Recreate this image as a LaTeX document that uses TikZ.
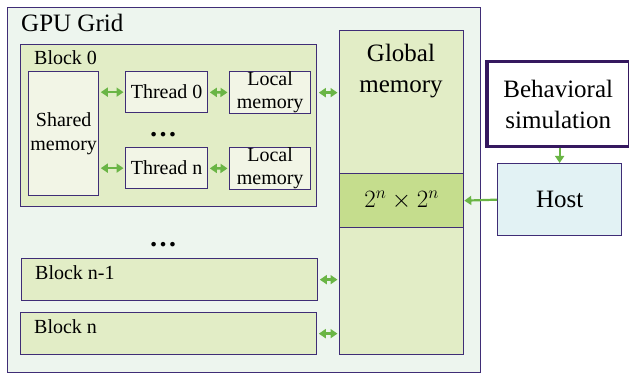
\documentclass[tikz,border=0pt]{standalone}
\usepackage{fontspec}
\setmainfont{Liberation Serif}
\usetikzlibrary{arrows.meta}

\definecolor{gridfill}{HTML}{EDF5EE}
\definecolor{blockfill}{HTML}{E2EDC6}
\definecolor{cellfill}{HTML}{F2F5E6}
\definecolor{bandfill}{HTML}{C5DD8D}
\definecolor{hostfill}{HTML}{E2F2F4}
\definecolor{edge}{HTML}{3F2D76}
\definecolor{simedge}{HTML}{35185F}
\definecolor{linkgreen}{HTML}{6AB545}

\tikzset{
  box/.style={draw=edge, line width=1.3pt, inner sep=0pt, anchor=north west},
  link/.style={draw=linkgreen, line width=2.4pt, {Triangle[length=7pt,width=9pt]}-{Triangle[length=7pt,width=9pt]}, shorten >=1.5pt, shorten <=1.5pt},
  feed/.style={draw=linkgreen, line width=2.2pt, -{Triangle[length=7pt,width=9pt]}},
  big/.style={font=\fontsize{25}{31}\selectfont},
  small/.style={font=\fontsize{20}{24}\selectfont},
}

\begin{document}
\begin{tikzpicture}[x=1pt,y=1pt,yscale=-1]
        \useasboundingbox (0,0) rectangle (629,374);
        %Shape: Grid
        \node [box, fill=gridfill, minimum width=473, minimum height=365] (grid) at (7,7) {};
        % Text Node
        \node [big, anchor=base west, inner sep=0pt] (gridlabel) at (21,32) {GPU Grid};
        
        %Shape: Block 0 and its threads
        \node [box, fill=blockfill, minimum width=296, minimum height=162] (block0) at (20,44) {};
        \node [small, anchor=base west, inner sep=0pt] (block0label) at (34,65) {Block 0};
        \node [box, fill=cellfill, small, align=center, minimum width=70, minimum height=124] (shared) at (28,71) {Shared\\memory};
        \node [box, fill=cellfill, small, minimum width=82, minimum height=41] (thread0) at (125,71) {Thread 0};
        \node [box, fill=cellfill, font=\fontsize{20}{23}\selectfont, align=center, minimum width=81, minimum height=42] (local0) at (229,71) {Local\\memory};
        \node [box, fill=cellfill, small, minimum width=82, minimum height=41] (threadn) at (125,147) {Thread n};
        \node [box, fill=cellfill, font=\fontsize{20}{23}\selectfont, align=center, minimum width=81, minimum height=42] (localn) at (229,147) {Local\\memory};
        \node [font=\fontsize{28}{30}\selectfont\bfseries, anchor=base, inner sep=0pt] (threaddots) at (163,137) {…};
        
        %Shape: Other blocks
        \node [font=\fontsize{28}{30}\selectfont\bfseries, anchor=base, inner sep=0pt] (blockdots) at (163,247) {…};
        \node [box, fill=blockfill, minimum width=296, minimum height=42] (blockn1) at (21,258) {};
        \node [small, anchor=base west, inner sep=0pt] (blockn1label) at (35,279) {Block n-1};
        \node [box, fill=blockfill, minimum width=296, minimum height=42] (blockn) at (20,312) {};
        \node [small, anchor=base west, inner sep=0pt] (blocknlabel) at (34,333) {Block n};
        
        %Shape: Global memory
        \node [box, fill=blockfill, minimum width=124, minimum height=324] (global) at (339,30) {};
        \node [big, align=center, inner sep=0pt] (globallabel) at (401,71) {Global\\memory};
        \node [box, fill=bandfill, font=\fontsize{27}{31}\selectfont, minimum width=124, minimum height=54] (band) at (339,173) {$2^n \times 2^n$};
        
        %Shape: Host side
        \node [box, draw=simedge, line width=3.5pt, fill=white, big, align=center, minimum width=143, minimum height=85] (sim) at (485,60) {Behavioral\\simulation};
        \node [box, fill=hostfill, big, minimum width=124, minimum height=72] (host) at (497,163) {Host};
        
        %Straight Lines
        \draw [link] (shared.east |- thread0.west) -- (thread0.west);
        \draw [link] (thread0) -- (local0);
        \draw [link] (shared.east |- threadn.west) -- (threadn.west);
        \draw [link] (threadn) -- (localn);
        \draw [link] (block0.east |- local0.east) -- (global.west |- local0.east);
        \draw [link] (blockn1.east) -- (global.west |- blockn1.east);
        \draw [link] (blockn.east) -- (global.west |- blockn.east);
        \draw [feed] (host.west) -- (band.east);
        \draw [feed] (sim.south -| host.north) -- (host.north);
\end{tikzpicture}
\end{document}
